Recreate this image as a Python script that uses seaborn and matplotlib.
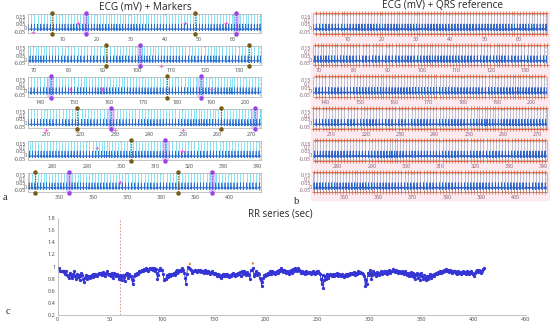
import numpy as np
import pandas as pd
import matplotlib
matplotlib.use("Agg")
import matplotlib.pyplot as plt
import seaborn as sns
from matplotlib.patches import Rectangle

# ---------------------------------------------------------------
# Data
# ---------------------------------------------------------------

# RR intervals (sec), one per beat, in time order (about 10 s per row)
rr_sec = [
    0.98, 0.92, 0.93, 0.92, 0.93, 0.91, 0.92, 0.88, 0.92, 0.86, 0.84,
    0.82, 0.90, 0.86, 0.81, 0.88, 0.84, 0.92, 0.85, 0.80, 0.87, 0.83, 0.86,
    0.78, 0.84, 0.90, 0.86, 0.80, 0.75, 0.82, 0.86, 0.84, 0.80, 0.83, 0.85,
    0.82, 0.84, 0.86, 0.83, 0.87, 0.85, 0.88, 0.86, 0.84, 0.87, 0.89,
    0.88, 0.90, 0.86, 0.88, 0.91, 0.87, 0.85, 0.89, 0.92, 0.88, 0.86,
    0.88, 0.84, 0.90, 0.86, 0.82, 0.89, 0.87, 0.84, 0.88, 0.85, 0.80, 0.86,
    0.80, 0.84, 0.78, 0.86, 0.83, 0.76, 0.88, 0.90, 0.86, 0.82, 0.87, 0.84,
    0.85, 0.79, 0.72, 0.78, 0.84, 0.88, 0.86, 0.90, 0.88, 0.92, 0.91,
    0.93, 0.95, 0.92, 0.96, 0.94, 0.97, 0.95, 0.93, 0.96, 0.98, 0.96,
    0.97, 0.95, 0.98, 0.93, 0.96, 0.90, 0.80, 0.86, 0.94, 0.97, 0.95,
    0.95, 0.88, 0.78, 0.80, 0.79, 0.84, 0.86, 0.83, 0.87, 0.85, 0.88, 0.86,
    0.88, 0.90, 0.86, 0.92, 0.89, 0.94, 0.91, 0.93, 0.95, 0.92, 0.97,
    0.94, 0.90, 0.82, 0.72, 0.88, 1.00, 0.98, 0.96, 0.94, 0.90, 0.92,
    0.92, 0.95, 0.93, 0.91, 0.94, 0.92, 0.93, 0.95, 0.91, 0.93, 0.92, 0.90,
    0.94, 0.92, 0.90, 0.93, 0.91, 0.88, 0.90, 0.92, 0.89, 0.87, 0.90, 0.88,
    0.88, 0.85, 0.87, 0.84, 0.86, 0.82, 0.85, 0.87, 0.84, 0.86, 0.88, 0.85,
    0.87, 0.85, 0.83, 0.86, 0.84, 0.88, 0.86, 0.89, 0.87, 0.85, 0.88,
    0.86, 0.90, 0.88, 0.91, 0.85, 0.92, 0.87, 0.90, 0.93, 0.89, 0.86,
    0.91, 0.88, 0.86, 0.80, 0.95, 0.94, 0.97, 0.85, 0.88, 0.92, 0.90,
    0.86, 0.90, 0.88, 0.82, 0.78, 0.68, 0.74, 0.82, 0.86, 0.85, 0.88,
    0.86, 0.90, 0.88, 0.92, 0.87, 0.90, 0.93, 0.89, 0.91, 0.88, 0.90,
    0.93, 0.90, 0.95, 0.92, 0.97, 0.94, 0.91, 0.95, 0.93, 0.90, 0.92,
    0.92, 0.88, 0.91, 0.94, 0.90, 0.93, 0.96, 0.92, 0.98, 0.95, 0.93,
    0.97, 0.94, 0.92, 0.90, 0.93, 0.89, 0.91, 0.88, 0.92, 0.90, 0.89, 0.91,
    0.91, 0.88, 0.90, 0.92, 0.89, 0.91, 0.88, 0.90, 0.93, 0.92, 0.90,
    0.88, 0.80, 0.72, 0.86, 0.65, 0.78, 0.84, 0.80, 0.88, 0.85, 0.82, 0.86,
    0.88, 0.86, 0.84, 0.87, 0.85, 0.88, 0.86, 0.89, 0.87, 0.85, 0.88,
    0.86, 0.84, 0.87, 0.85, 0.83, 0.86, 0.84, 0.87, 0.85, 0.88, 0.86, 0.89,
    0.88, 0.90, 0.87, 0.91, 0.89, 0.86, 0.90, 0.88, 0.92, 0.89, 0.91, 0.90,
    0.90, 0.88, 0.85, 0.80, 0.68, 0.78, 0.72, 0.90, 0.86, 0.94, 0.90,
    0.80, 0.86, 0.92, 0.88, 0.90, 0.85, 0.91, 0.88, 0.86, 0.90, 0.92,
    0.88, 0.91, 0.89, 0.93, 0.90, 0.92, 0.88, 0.91, 0.94, 0.90, 0.92,
    0.92, 0.96, 0.93, 0.91, 0.94, 0.92, 0.90, 0.93, 0.91, 0.89, 0.92, 0.90,
    0.90, 0.88, 0.92, 0.89, 0.86, 0.90, 0.84, 0.88, 0.91, 0.85, 0.89,
    0.83, 0.88, 0.80, 0.86, 0.90, 0.82, 0.87, 0.78, 0.85, 0.89, 0.84,
    0.80, 0.86, 0.82, 0.78, 0.85, 0.81, 0.79, 0.84, 0.88, 0.82, 0.86, 0.84,
    0.87, 0.85, 0.88, 0.90, 0.87, 0.91, 0.89, 0.92, 0.90, 0.93, 0.91,
    0.94, 0.92, 0.96, 0.93, 0.95, 0.91, 0.94, 0.92, 0.90, 0.93, 0.92,
    0.91, 0.93, 0.90, 0.88, 0.92, 0.89, 0.91, 0.87, 0.90, 0.92, 0.89,
    0.91, 0.88, 0.92, 0.90, 0.87, 0.91, 0.89, 0.93, 0.90, 0.88, 0.85,
    0.90, 0.92, 0.94, 0.91, 0.95, 0.92, 0.89, 0.93, 0.96, 0.97,
]

# one beat of the ECG trace: time from R peak (s) and amplitude (mV)
qrs_dt = [-0.28, -0.20, -0.12, -0.05, -0.02, 0.00, 0.03, 0.06, 0.14, 0.22, 0.30]
qrs_mv = [-0.020, -0.012, -0.020, -0.022, -0.030, 0.050, -0.040, -0.022, -0.016, -0.008, -0.020]

# annotation markers on panel a (sec)
marker_a_t = [7, 49, 91, 133, 177, 219, 261, 303, 343, 385]
marker_b_t = [17, 61, 101, 143, 187, 229, 271, 313, 353, 395]
pink_t = [1.5, 14.6, 46, 58, 107, 148.6, 158, 190, 210, 230, 250, 293, 318, 368]
pink_mv = [-0.05, 0.07, 0.07, 0.07, -0.09, 0.03, 0.03, 0.03, -0.09, -0.09, -0.09, 0.09, 0.05, 0.06]

ecg_yticks = [-0.05, 0, 0.05, 0.1, 0.15]
ecg_yticklabels = ["-0.05", "0", "0.05", "0.1", "0.15"]
rr_xticks = [0, 50, 100, 150, 200, 250, 300, 350, 400, 450]
rr_yticks = [0.2, 0.4, 0.6, 0.8, 1.0, 1.2, 1.4, 1.6, 1.8]
rr_yticklabels = ["0.2", "0.4", "0.6", "0.8", "1", "1.2", "1.4", "1.6", "1.8"]
arrow_t = [127, 188]
dash_t = 60

strip_len = 68.2
n_strips = 6

# ---------------------------------------------------------------
# Derived series
# ---------------------------------------------------------------
rr = np.array(rr_sec)
beat_t = np.concatenate([[0.0], np.cumsum(rr)])
rr_df = pd.DataFrame({"t": beat_t[1:], "rr": rr})

ecg_df = pd.DataFrame({
    "t": (beat_t[:, None] + np.array(qrs_dt)[None, :]).ravel(),
    "mv": np.tile(qrs_mv, len(beat_t)),
})

# ---------------------------------------------------------------
# Figure
# ---------------------------------------------------------------
sns.set_theme(style="white")
plt.rcParams["font.family"] = ["Open Sans", "DejaVu Sans"]

W, H = 550, 328
fig = plt.figure(figsize=(W / 100, H / 100), dpi=100)


def box(x0, top, w, h):
    return [x0 / W, 1 - (top + h) / H, w / W, h / H]


# pink backdrop behind panel b
fig.patches.append(Rectangle((311 / W, 1 - 200 / H), 239 / W, 188 / H,
                             transform=fig.transFigure, color="#fdeaf1", zorder=-10))

YLIM = (-0.07, 0.185)


def style_strip(ax, lo, hi, labelcolor):
    ax.set_xlim(lo, hi)
    ax.set_ylim(*YLIM)
    ax.set_xticks([v for v in range(0, 420, 10) if lo < v < hi])
    ax.set_yticks(ecg_yticks)
    ax.set_yticklabels(ecg_yticklabels)
    ax.tick_params(direction="in", length=1.5, width=0.3, labelsize=3.8, pad=1.2,
                   top=True, right=True, colors="#777777", labelcolor=labelcolor)
    ax.tick_params(axis="x", pad=2.6)
    for s in ax.spines.values():
        s.set_color("#999999")
        s.set_linewidth(0.4)
    ax.set(xlabel=None, ylabel=None)


for i in range(n_strips):
    lo, hi = i * strip_len, (i + 1) * strip_len
    top = 14 + 31.75 * i
    sub = ecg_df[(ecg_df.t > lo - 1) & (ecg_df.t < hi + 1)]
    bt = beat_t[(beat_t > lo) & (beat_t < hi)]

    # ---- panel a: ECG + markers
    ax = fig.add_axes(box(28, top, 233, 19))
    for t in marker_b_t:
        if lo < t < hi:
            ax.axvspan(t - 1.0, t + 1.0, color="#ddd0fa", lw=0, zorder=0)
    ax.vlines(bt, -0.03, YLIM[1], color="#45d2f0", lw=0.45, zorder=1)
    sns.lineplot(data=sub, x="t", y="mv", ax=ax, color="#2a6cd0", lw=0.5,
                 estimator=None, sort=False, zorder=2)
    for ts, col in ((marker_a_t, "#7a5a14"), (marker_b_t, "#9a40e6")):
        for t in ts:
            if lo < t < hi:
                ax.vlines(t, YLIM[0], YLIM[1], color=col, lw=0.9,
                          linestyles=(0, (1, 1)), zorder=3)
                ax.plot([t, t], [0.2, -0.085], ls="none", marker="o", ms=2.2,
                        color=col, clip_on=False, zorder=4)
    for t, v in zip(pink_t, pink_mv):
        if lo < t < hi:
            ax.plot(t, v, ls="none", marker="+", ms=2.2, mew=0.6,
                    color="#ff55dd", clip_on=False, zorder=4)
    style_strip(ax, lo, hi, "#444444")

    # ---- panel b: ECG + QRS reference
    ax = fig.add_axes(box(313, top, 234, 19))
    ax.set_facecolor("#fff6f9")
    ax.vlines(bt, YLIM[0], YLIM[1], color="#97a3bd", lw=0.45, zorder=1)
    ax.vlines(bt, -0.03, 0.05, color="#62d6ef", lw=0.45, zorder=1)
    sns.lineplot(data=sub, x="t", y="mv", ax=ax, color="#2f62c8", lw=0.7,
                 estimator=None, sort=False, zorder=2)
    ax.plot(bt, np.full(len(bt), 0.2), ls="none", marker="+", ms=2.2, mew=0.5,
            color="#e2582c", clip_on=False)
    ax.plot(bt, np.full(len(bt), -0.078), ls="none", marker="+", ms=2.2, mew=0.5,
            color="#e2582c", clip_on=False)
    style_strip(ax, lo, hi, "#7d5566")

# ---- panel c: RR series
axc = fig.add_axes(box(57.7, 217.8, 468, 97.5))
axc.axvline(dash_t, color="#e08080", lw=0.6, ls=(0, (2, 2)))
sns.lineplot(data=rr_df, x="t", y="rr", ax=axc, color="#3535d5", lw=0.6,
             marker="o", ms=1.6, mec="#3535d5", estimator=None, sort=False)
for t in arrow_t:
    k = int(np.argmin(np.abs(rr_df.t.values - t)))
    x, y = rr_df.t.values[k], rr_df.rr.values[k]
    axc.annotate("", xy=(x, y + 0.16), xytext=(x, y + 0.03),
                 arrowprops=dict(arrowstyle="-|>", color="#e0902c", lw=0.6,
                                 mutation_scale=3))
axc.set_xlim(0, 450)
axc.set_ylim(0.2, 1.8)
axc.set_xticks(rr_xticks)
axc.set_yticks(rr_yticks)
axc.set_yticklabels(rr_yticklabels)
axc.tick_params(direction="in", length=2, width=0.4, labelsize=4, pad=1.5,
                colors="#888888", labelcolor="#444444")
sns.despine(ax=axc)
for s in ("left", "bottom"):
    axc.spines[s].set_color("#aaaaaa")
    axc.spines[s].set_linewidth(0.5)
axc.set(xlabel=None, ylabel=None)

# ---- titles and panel letters
fig.text(145 / W, 1 - 7 / H, "ECG (mV) + Markers", ha="center", va="center", fontsize=7.2)
fig.text(442 / W, 1 - 6 / H, "ECG (mV) + QRS reference", ha="center", va="center", fontsize=7.2)
fig.text(280 / W, 1 - 214 / H, "RR series (sec)", ha="center", va="center", fontsize=7)
for txt, x, y in (("a", 5, 197), ("b", 297, 201), ("c", 8, 312)):
    fig.text(x / W, 1 - y / H, txt, ha="center", va="center", fontsize=7.5,
             family="Liberation Serif")

fig.savefig("out.png", dpi=100)
